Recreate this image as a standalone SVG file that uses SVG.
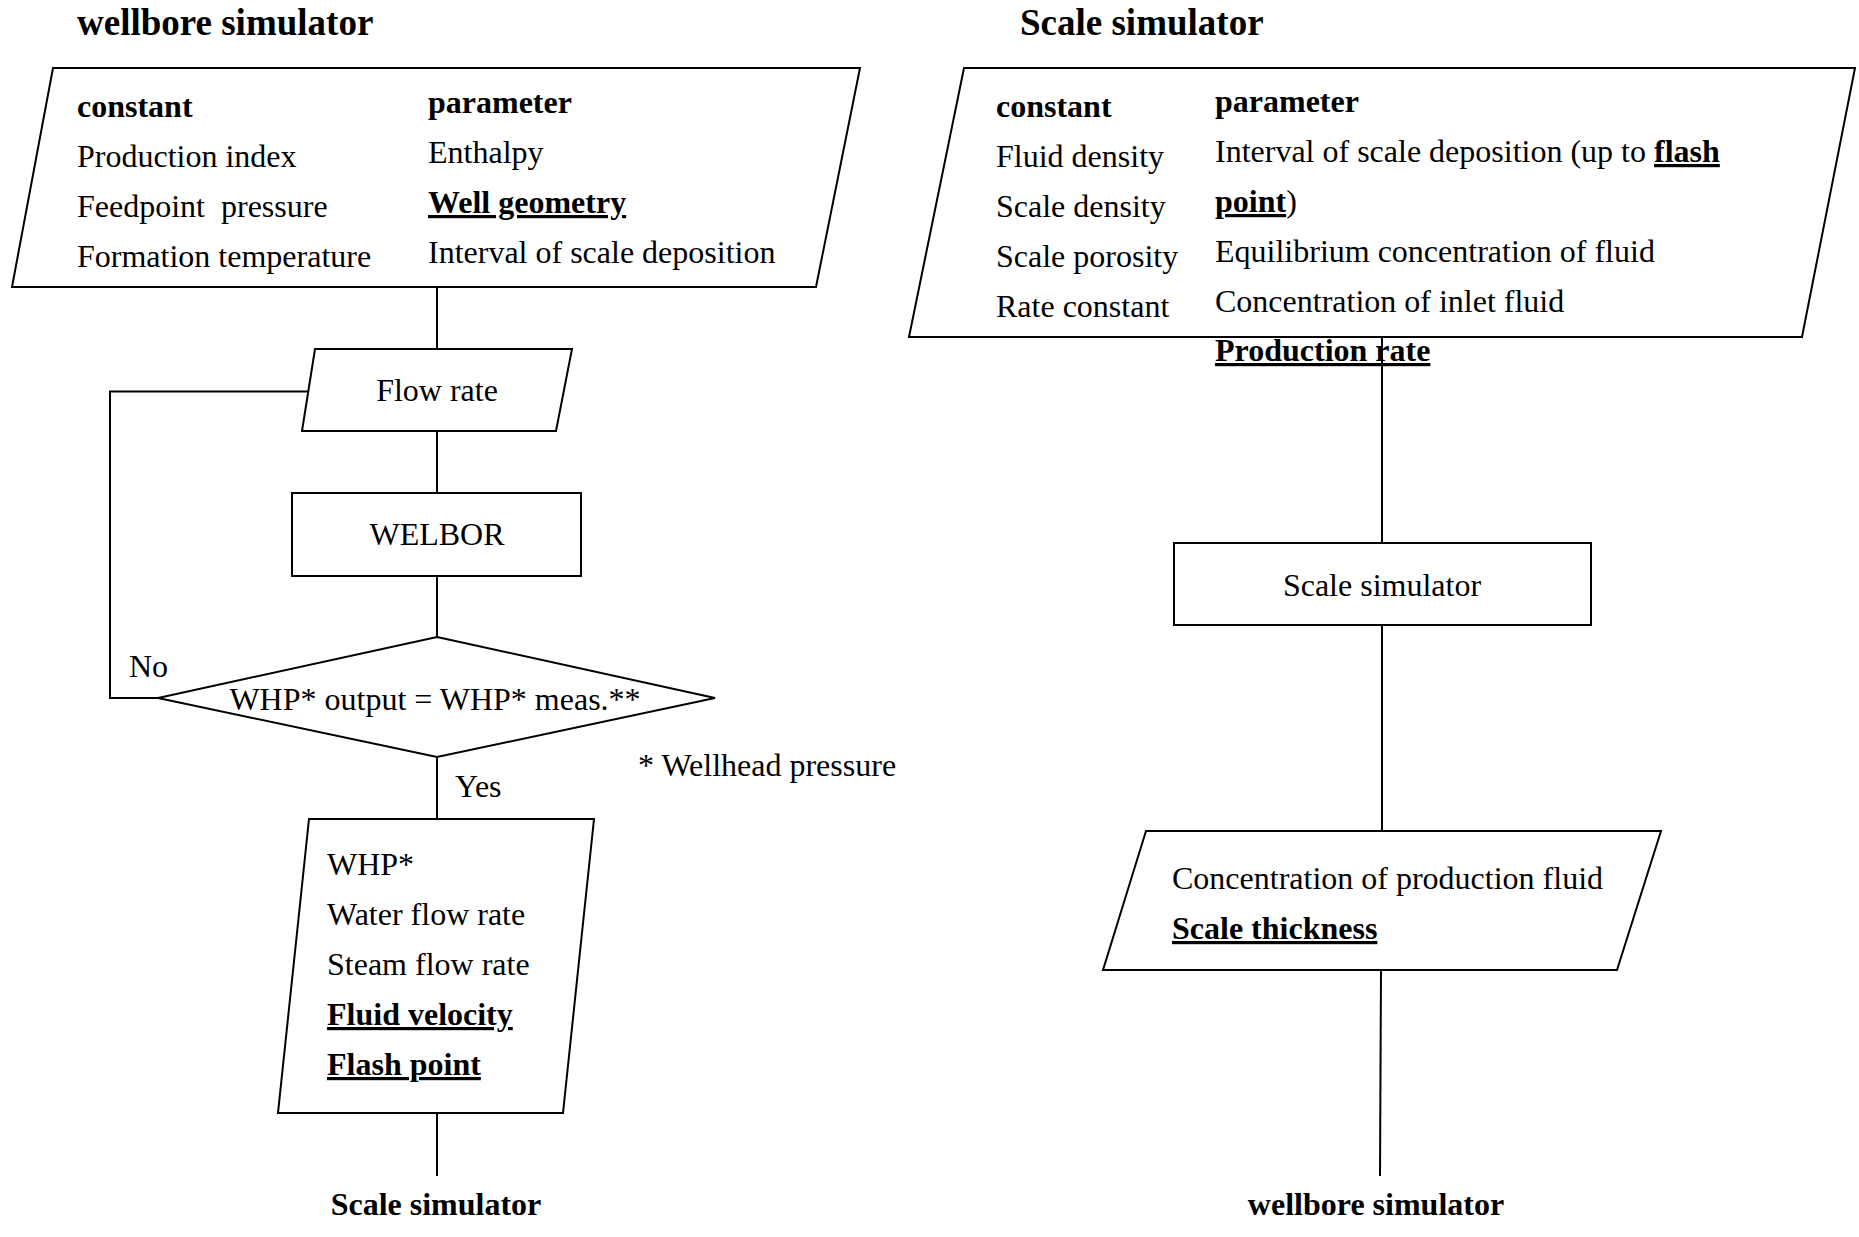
<svg xmlns="http://www.w3.org/2000/svg" width="1859" height="1237" viewBox="0 0 1859 1237">
<style>
  .shape { fill: #ffffff; stroke: #000000; stroke-width: 2; }
  .conn { fill: none; stroke: #000000; stroke-width: 2; }
  text { font-family: "Liberation Serif", "Times New Roman", serif; font-size: 32px; fill: #000000; }
  .b { font-weight: bold; }
  .u { text-decoration: underline; }
  .h { font-weight: bold; font-size: 37px; }
  .mid { text-anchor: middle; }
</style>
<rect x="0" y="0" width="1859" height="1237" fill="#ffffff"/>

<g id="connectors">
  <line class="conn" x1="437" y1="287" x2="437" y2="349"/>
  <line class="conn" x1="437" y1="431" x2="437" y2="493"/>
  <line class="conn" x1="437" y1="576" x2="437" y2="637"/>
  <polyline class="conn" points="158,698 110,698 110,391.5 308,391.5"/>
  <line class="conn" x1="437" y1="757" x2="437" y2="819"/>
  <line class="conn" x1="437" y1="1113" x2="437" y2="1176"/>
  <line class="conn" x1="1382" y1="337" x2="1382" y2="543"/>
  <line class="conn" x1="1382" y1="625" x2="1382" y2="831"/>
  <line class="conn" x1="1381" y1="970" x2="1380" y2="1176"/>
</g>

<g id="title-left">
  <text class="h" x="77" y="35">wellbore simulator</text>
</g>
<g id="title-right">
  <text class="h" x="1020" y="35">Scale simulator</text>
</g>

<g id="wellbore-input">
  <polygon class="shape" points="53,68 860,68 816,287 12,287"/>
  <text class="b" x="77" y="117">constant</text>
  <text x="77" y="167">Production index</text>
  <text x="77" y="217" xml:space="preserve">Feedpoint  pressure</text>
  <text x="77" y="267">Formation temperature</text>
  <text class="b" x="428" y="113">parameter</text>
  <text x="428" y="163">Enthalpy</text>
  <text class="b u" x="428" y="213">Well geometry</text>
  <text x="428" y="263">Interval of scale deposition</text>
</g>

<g id="flow-rate">
  <polygon class="shape" points="315,349 572,349 556,431 302,431"/>
  <text class="mid" x="437" y="401">Flow rate</text>
</g>

<g id="welbor">
  <rect class="shape" x="292" y="493" width="289" height="83"/>
  <text class="mid" x="437" y="545">WELBOR</text>
</g>

<g id="decision">
  <polygon class="shape" points="437,637 715,698 437,757 158,698"/>
  <text class="mid" x="435" y="710">WHP* output = WHP* meas.**</text>
  <text x="129" y="677">No</text>
  <text x="455" y="797">Yes</text>
</g>

<g id="footnote">
  <text x="638" y="776">* Wellhead pressure</text>
</g>

<g id="wellbore-output">
  <polygon class="shape" points="309,819 594,819 563,1113 278,1113"/>
  <text x="327" y="875">WHP*</text>
  <text x="327" y="925">Water flow rate</text>
  <text x="327" y="975">Steam flow rate</text>
  <text class="b u" x="327" y="1025">Fluid velocity</text>
  <text class="b u" x="327" y="1075">Flash point</text>
</g>

<g id="to-scale-simulator">
  <text class="b mid" x="436" y="1215">Scale simulator</text>
</g>

<g id="scale-input">
  <polygon class="shape" points="964,68 1855,68 1802,337 909,337"/>
  <text class="b" x="996" y="117">constant</text>
  <text x="996" y="167">Fluid density</text>
  <text x="996" y="217">Scale density</text>
  <text x="996" y="267">Scale porosity</text>
  <text x="996" y="317">Rate constant</text>
  <text class="b" x="1215" y="112">parameter</text>
  <text x="1215" y="162">Interval of scale deposition (up to <tspan class="b u">flash</tspan></text>
  <text x="1215" y="212"><tspan class="b u">point</tspan>)</text>
  <text x="1215" y="262">Equilibrium concentration of fluid</text>
  <text x="1215" y="312">Concentration of inlet fluid</text>
  <text class="b u" x="1215" y="361">Production rate</text>
</g>

<g id="scale-sim">
  <rect class="shape" x="1174" y="543" width="417" height="82"/>
  <text class="mid" x="1382" y="596">Scale simulator</text>
</g>

<g id="scale-output">
  <polygon class="shape" points="1146,831 1661,831 1617,970 1103,970"/>
  <text x="1172" y="889">Concentration of production fluid</text>
  <text class="b u" x="1172" y="939">Scale thickness</text>
</g>

<g id="to-wellbore-simulator">
  <text class="b mid" x="1376" y="1215">wellbore simulator</text>
</g>
</svg>
